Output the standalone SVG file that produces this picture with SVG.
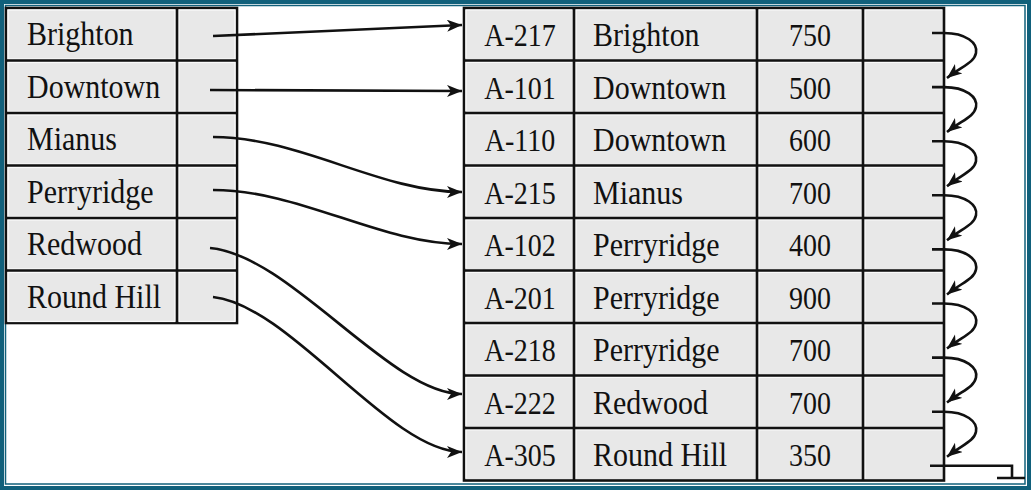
<svg xmlns="http://www.w3.org/2000/svg" width="1031" height="490" viewBox="0 0 1031 490">
<style>
.frame{fill:none;stroke:#11607b}
.tbl{fill:#e8e8e8;stroke:#111;stroke-width:2.6}
.hl{fill:none;stroke:#fafafa;stroke-width:1.2}
.grid{stroke:#111;stroke-width:2.6;fill:none}
.w{font-family:"Liberation Serif","Times New Roman",serif;font-size:30px;fill:#111}
.n{font-family:"Liberation Serif","Times New Roman",serif;font-size:28px;fill:#111}
.c{text-anchor:middle}
.con{fill:none;stroke:#111;stroke-width:2.6}
</style>
<defs>
<marker id="ah" markerUnits="userSpaceOnUse" markerWidth="18" markerHeight="14" refX="15" refY="6" orient="auto">
<path d="M0,0 L15,6 L0,12 L4,6 z" fill="#111"/>
</marker>
</defs>
<rect width="1031" height="490" fill="#fff"/>
<rect class="frame" x="2" y="2" width="1027" height="486" stroke-width="4"/>
<rect class="frame" x="5.5" y="5.5" width="1019.5" height="478.5" stroke-width="1.5"/>

<g id="index">
<rect class="tbl" x="6" y="8" width="231" height="315"/>
<g id="idx-brighton"><rect class="hl" x="8" y="10" width="167" height="49"/><rect class="hl" x="179" y="10" width="56" height="49"/><text class="w" transform="translate(27,45) scale(1,1.15)">Brighton</text></g>
<g id="idx-downtown"><rect class="hl" x="8" y="62.5" width="167" height="49"/><rect class="hl" x="179" y="62.5" width="56" height="49"/><text class="w" transform="translate(27,97.5) scale(1,1.15)">Downtown</text></g>
<g id="idx-mianus"><rect class="hl" x="8" y="115" width="167" height="49"/><rect class="hl" x="179" y="115" width="56" height="49"/><text class="w" transform="translate(27,150) scale(1,1.15)">Mianus</text></g>
<g id="idx-perryridge"><rect class="hl" x="8" y="167.5" width="167" height="49"/><rect class="hl" x="179" y="167.5" width="56" height="49"/><text class="w" transform="translate(27,202.5) scale(1,1.15)">Perryridge</text></g>
<g id="idx-redwood"><rect class="hl" x="8" y="220" width="167" height="49"/><rect class="hl" x="179" y="220" width="56" height="49"/><text class="w" transform="translate(27,255) scale(1,1.15)">Redwood</text></g>
<g id="idx-roundhill"><rect class="hl" x="8" y="272.5" width="167" height="49"/><rect class="hl" x="179" y="272.5" width="56" height="49"/><text class="w" transform="translate(27,307.5) scale(1,1.15)">Round Hill</text></g>
<path class="grid" d="M177,8 V323 M6,60.5 H237 M6,113 H237 M6,165.5 H237 M6,218 H237 M6,270.5 H237"/>
</g>

<g id="accounts">
<rect class="tbl" x="464" y="8" width="480" height="472.5"/>
<g class="hlrows">
<path class="hl" d="M466,58.5 V10 H572 M576,58.5 V10 H755 M759,58.5 V10 H861 M865,58.5 V10 H942
M466,111 V62.5 H572 M576,111 V62.5 H755 M759,111 V62.5 H861 M865,111 V62.5 H942
M466,163.5 V115 H572 M576,163.5 V115 H755 M759,163.5 V115 H861 M865,163.5 V115 H942
M466,216 V167.5 H572 M576,216 V167.5 H755 M759,216 V167.5 H861 M865,216 V167.5 H942
M466,268.5 V220 H572 M576,268.5 V220 H755 M759,268.5 V220 H861 M865,268.5 V220 H942
M466,321 V272.5 H572 M576,321 V272.5 H755 M759,321 V272.5 H861 M865,321 V272.5 H942
M466,373.5 V325 H572 M576,373.5 V325 H755 M759,373.5 V325 H861 M865,373.5 V325 H942
M466,426 V377.5 H572 M576,426 V377.5 H755 M759,426 V377.5 H861 M865,426 V377.5 H942
M466,478.5 V430 H572 M576,478.5 V430 H755 M759,478.5 V430 H861 M865,478.5 V430 H942"/>
</g>
<g id="acc-a217"><text class="n c" transform="translate(520,46) scale(1,1.15)">A-217</text><text class="w" transform="translate(593,46) scale(1,1.15)">Brighton</text><text class="n c" transform="translate(810,46) scale(1,1.15)">750</text></g>
<g id="acc-a101"><text class="n c" transform="translate(520,98.5) scale(1,1.15)">A-101</text><text class="w" transform="translate(593,98.5) scale(1,1.15)">Downtown</text><text class="n c" transform="translate(810,98.5) scale(1,1.15)">500</text></g>
<g id="acc-a110"><text class="n c" transform="translate(520,151) scale(1,1.15)">A-110</text><text class="w" transform="translate(593,151) scale(1,1.15)">Downtown</text><text class="n c" transform="translate(810,151) scale(1,1.15)">600</text></g>
<g id="acc-a215"><text class="n c" transform="translate(520,203.5) scale(1,1.15)">A-215</text><text class="w" transform="translate(593,203.5) scale(1,1.15)">Mianus</text><text class="n c" transform="translate(810,203.5) scale(1,1.15)">700</text></g>
<g id="acc-a102"><text class="n c" transform="translate(520,256) scale(1,1.15)">A-102</text><text class="w" transform="translate(593,256) scale(1,1.15)">Perryridge</text><text class="n c" transform="translate(810,256) scale(1,1.15)">400</text></g>
<g id="acc-a201"><text class="n c" transform="translate(520,308.5) scale(1,1.15)">A-201</text><text class="w" transform="translate(593,308.5) scale(1,1.15)">Perryridge</text><text class="n c" transform="translate(810,308.5) scale(1,1.15)">900</text></g>
<g id="acc-a218"><text class="n c" transform="translate(520,361) scale(1,1.15)">A-218</text><text class="w" transform="translate(593,361) scale(1,1.15)">Perryridge</text><text class="n c" transform="translate(810,361) scale(1,1.15)">700</text></g>
<g id="acc-a222"><text class="n c" transform="translate(520,413.5) scale(1,1.15)">A-222</text><text class="w" transform="translate(593,413.5) scale(1,1.15)">Redwood</text><text class="n c" transform="translate(810,413.5) scale(1,1.15)">700</text></g>
<g id="acc-a305"><text class="n c" transform="translate(520,466) scale(1,1.15)">A-305</text><text class="w" transform="translate(593,466) scale(1,1.15)">Round Hill</text><text class="n c" transform="translate(810,466) scale(1,1.15)">350</text></g>
<path class="grid" d="M574,8 V480.5 M757,8 V480.5 M863,8 V480.5
M464,60.5 H944 M464,113 H944 M464,165.5 H944 M464,218 H944 M464,270.5 H944 M464,323 H944 M464,375.5 H944 M464,428 H944"/>
</g>

<g id="connectors">
<path class="con" marker-end="url(#ah)" d="M213,36 L462,25"/>
<path class="con" marker-end="url(#ah)" d="M210,90 L462,91"/>
<path class="con" marker-end="url(#ah)" d="M213,137 C300,137 380,192 462,192"/>
<path class="con" marker-end="url(#ah)" d="M213,190 C300,190 380,244 462,244"/>
<path class="con" marker-end="url(#ah)" d="M210,248 C290,255 390,394 462,394"/>
<path class="con" marker-end="url(#ah)" d="M213,297 C290,305 390,452 462,452"/>

<path class="con" marker-end="url(#ah)" d="M932,33 L944,33 C966,33 978,43 976,53 C974,63 962,66 947,78"/>
<path class="con" marker-end="url(#ah)" d="M932,87.1 L944,87.1 C966,87.1 978,97.1 976,107.1 C974,117.1 962,120.1 947,132.1"/>
<path class="con" marker-end="url(#ah)" d="M932,141.2 L944,141.2 C966,141.2 978,151.2 976,161.2 C974,171.2 962,174.2 947,186.2"/>
<path class="con" marker-end="url(#ah)" d="M932,195.3 L944,195.3 C966,195.3 978,205.3 976,215.3 C974,225.3 962,228.3 947,240.3"/>
<path class="con" marker-end="url(#ah)" d="M932,249.4 L944,249.4 C966,249.4 978,259.4 976,269.4 C974,279.4 962,282.4 947,294.4"/>
<path class="con" marker-end="url(#ah)" d="M932,303.5 L944,303.5 C966,303.5 978,313.5 976,323.5 C974,333.5 962,336.5 947,348.5"/>
<path class="con" marker-end="url(#ah)" d="M932,357.6 L944,357.6 C966,357.6 978,367.6 976,377.6 C974,387.6 962,390.6 947,402.6"/>
<path class="con" marker-end="url(#ah)" d="M932,411.7 L944,411.7 C966,411.7 978,421.7 976,431.7 C974,441.7 962,444.7 947,456.7"/>
<path class="con" d="M930,465.8 H1012 V478 M997,478 H1025"/>
</g>
</svg>
